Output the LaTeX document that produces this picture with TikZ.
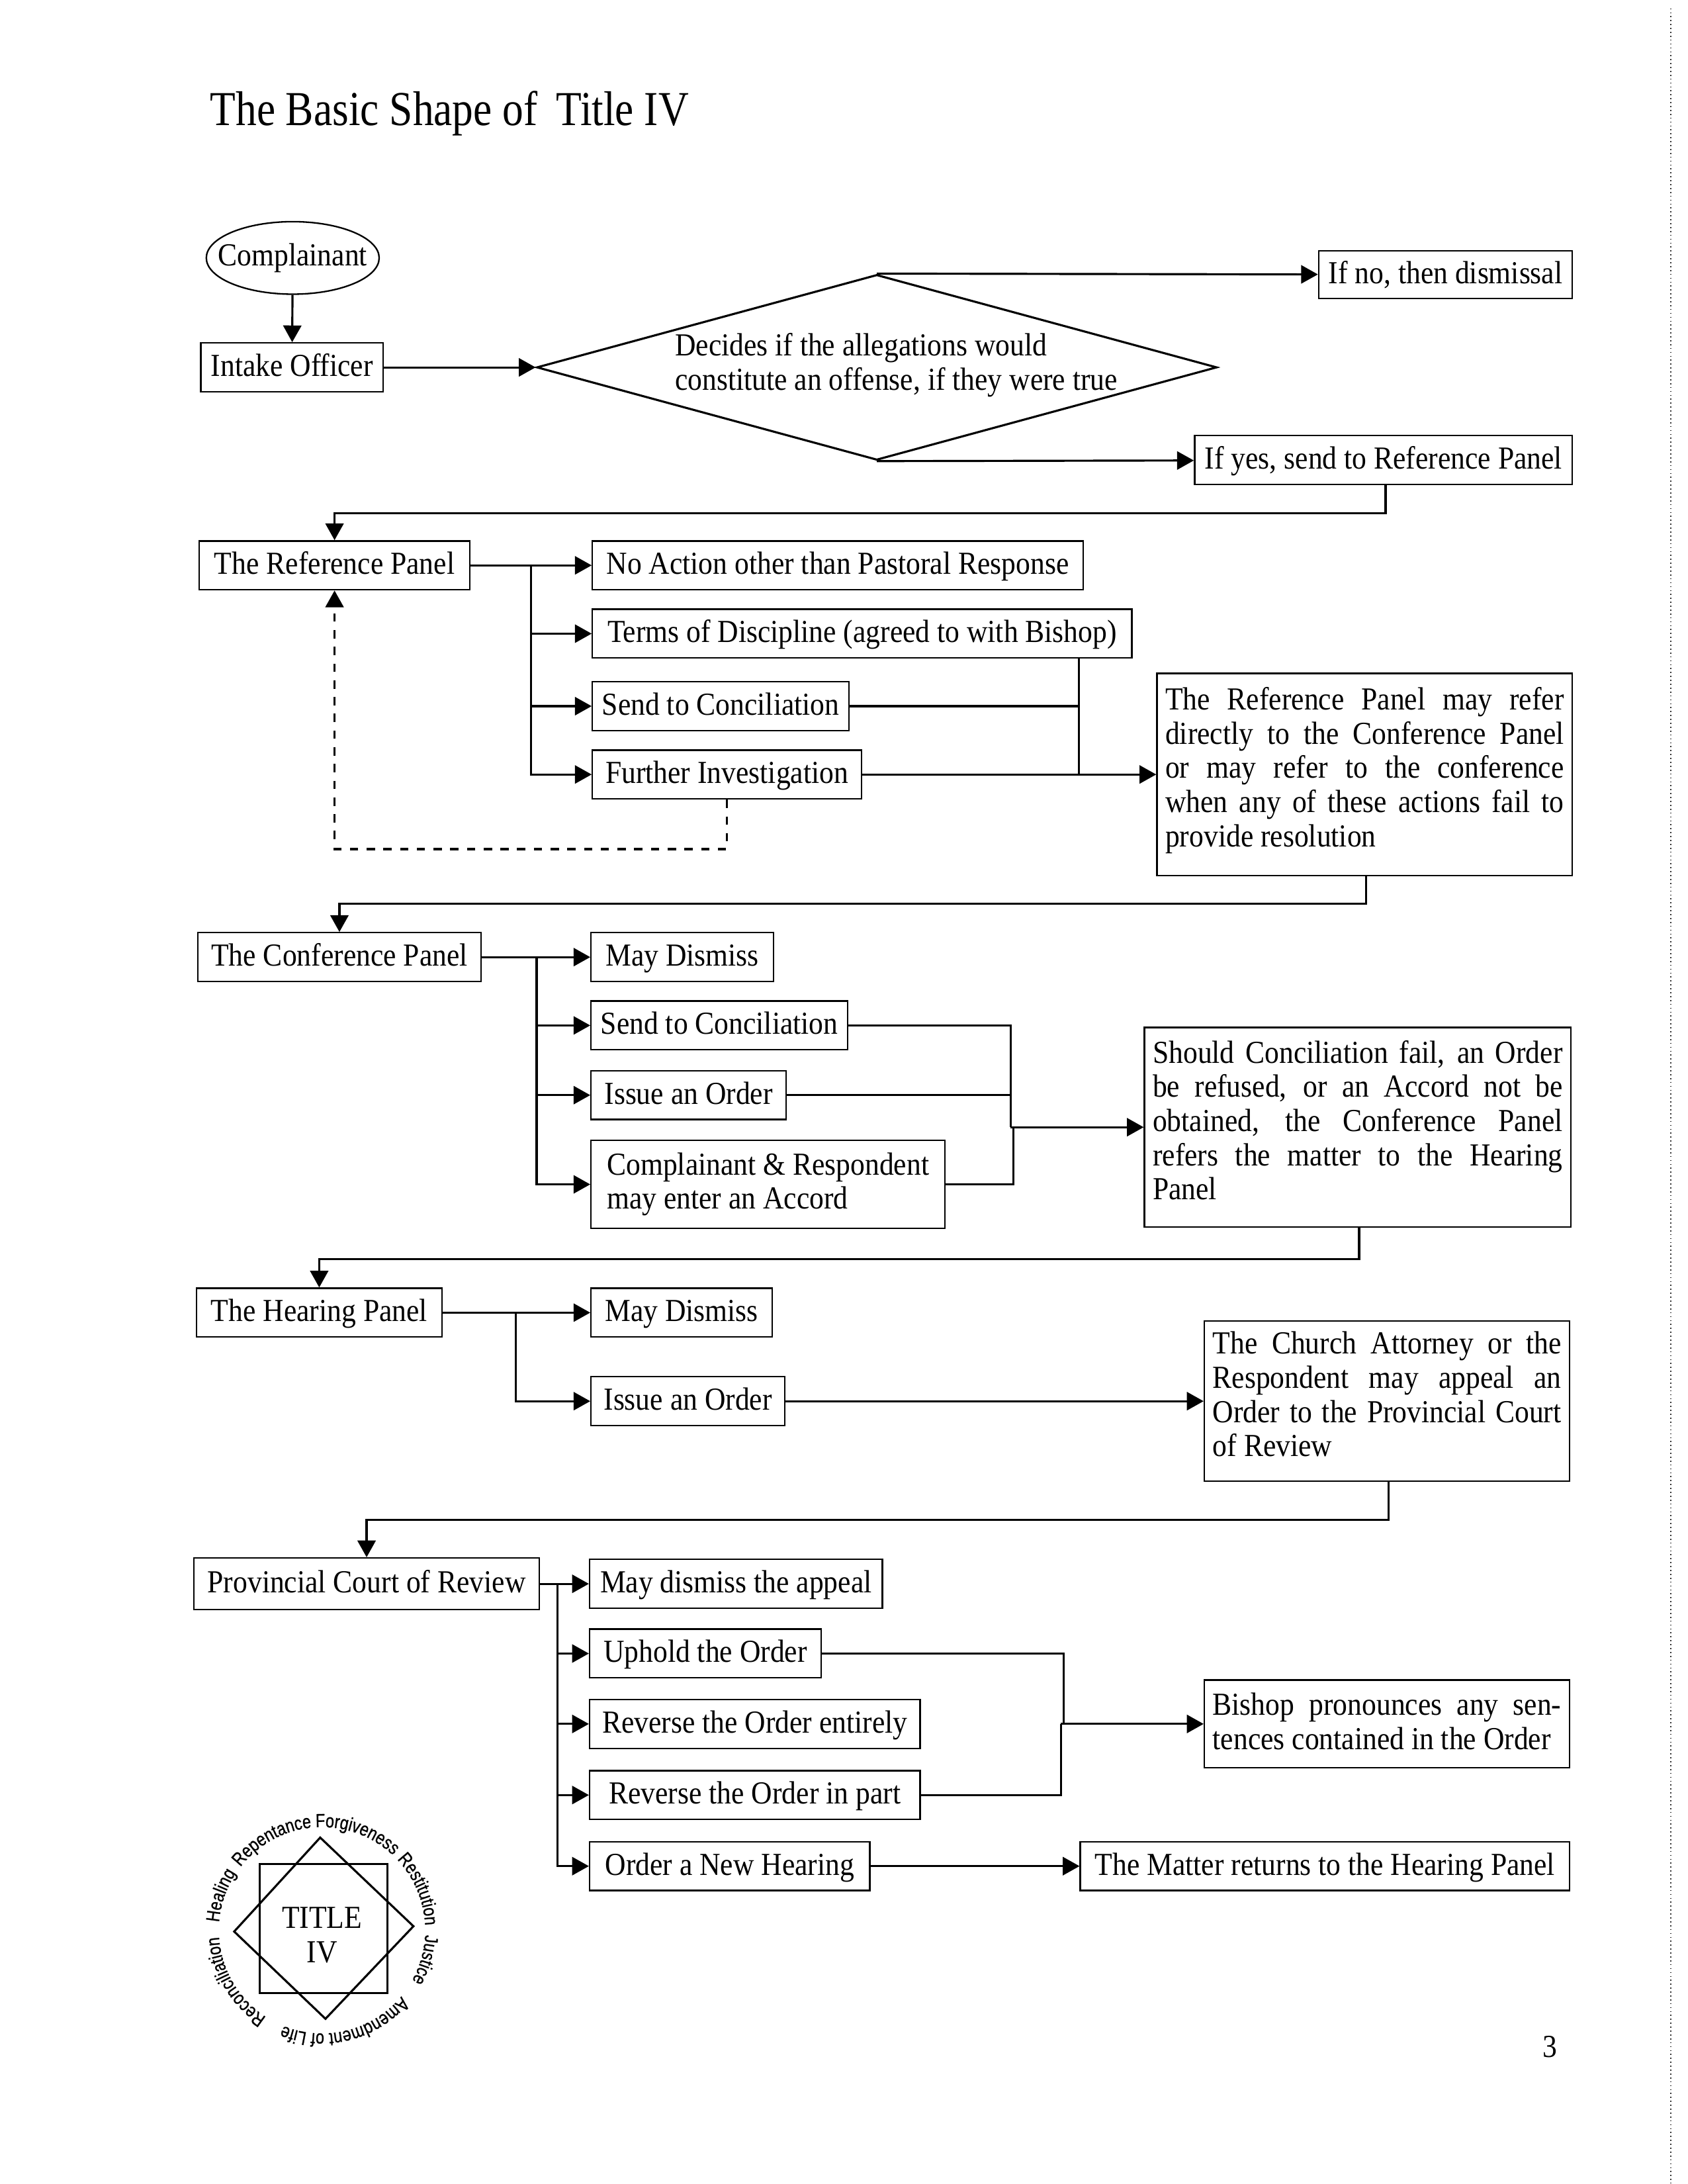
\documentclass[tikz,border=0pt]{standalone}
\usepackage{fontspec}
\setmainfont[FakeStretch=0.9]{Liberation Serif}
\newfontfamily\titlefont[FakeStretch=0.86]{Liberation Serif}
\newfontfamily\logofont[FakeStretch=0.82,FakeBold=0.8]{Liberation Sans}
\usetikzlibrary{arrows.meta,decorations.text,positioning,shapes.geometric}
\newcommand{\liftnote}[1]{\par\nointerlineskip\rule{0pt}{#1}}
\tikzset{x=0.5pt,y=-0.5pt,
    >={Triangle[length=6pt,width=6.5pt]},
    every path/.style={line width=0.75pt},
    every node/.style={font=\fontsize{11.5}{12.25}\selectfont},
    boxy/.style={draw,rectangle,line width=0.55pt,inner sep=0,minimum height=17.5pt,text height=8.5pt,text depth=2.1pt},
    twolines/.style={draw,rectangle,line width=0.55pt,inner sep=0,align=left},
    notebox/.style={draw,rectangle,line width=0.55pt,inner xsep=3pt,inner ysep=0,align=justify},
    ringword/.style={decorate,decoration={text along path,text align=center,
        text={|\logofont\fontsize{6.8}{7}\selectfont|#1}}}}
\begin{document}
\begin{tikzpicture}
\useasboundingbox (0,0) rectangle (1210.5,1566.5);

\node (title) [anchor=base west,inner sep=0,font=\titlefont\fontsize{17.5}{20}\selectfont] at (150,90) {The Basic Shape of\, Title IV};

\node (complainant) [draw,ellipse,line width=0.55pt,inner sep=0,minimum width=62pt,minimum height=26pt,label={center:Complainant}] at (210,185) {};
\node (intake) [boxy,minimum width=65.5pt] at (209.5,263.5) {Intake Officer};
\node (decide) [draw,diamond,inner sep=0,minimum width=244pt,minimum height=66.5pt] at (629,263.5) {};
\node (decide text) [align=left,inner sep=0] at (643,262) {Decides if the allegations would\\constitute an offense, if they were true};
\node (no box) [boxy,minimum width=91pt,minimum height=17pt] at (1037,197) {If no, then dismissal};
\node (yes box) [boxy,minimum width=135.5pt] at (992.5,330) {If yes, send to Reference Panel};

\draw [->] (complainant) -- (intake);
\draw [->] (intake) -- (decide.west);
\draw [->] (decide.north) -- (no box);
\draw [->] (decide.south) -- (yes box);

% reference panel
\node (ref panel) [boxy,minimum width=97pt] at (240,405.5) {The Reference Panel};
\node (ref none) [boxy,minimum width=176pt] at (601,405.5) {No Action other than Pastoral Response};
\node (ref terms) [boxy,minimum width=193.5pt] at (618.5,454.5) {Terms of Discipline (agreed to with Bishop)};
\node (ref concil) [boxy,minimum width=92pt] at (517,506.5) {Send to Conciliation};
\node (ref further) [boxy,minimum width=96.5pt] at (521.5,555.5) {Further Investigation};
\node (ref note) [notebox,text width=143pt,minimum height=72.5pt] at (979,555.5) {The Reference Panel may refer\linebreak directly to the Conference Panel\linebreak or may refer to the conference\linebreak when any of these actions fail to\linebreak provide resolution\liftnote{3pt}};
\coordinate (ref fork) at (381,405.5);
\coordinate (ref join) at (774,555.5);
\coordinate (yes turn) at (994,368);
\coordinate (dash turn) at (240,609);

\draw [->] (yes box.south -| yes turn) -- (yes turn) -| (ref panel.north);
\draw [->] (ref panel) -- (ref none);
\draw [->] (ref fork) |- (ref terms);
\draw [->] (ref fork) |- (ref concil);
\draw [->] (ref fork) |- (ref further);
\draw (ref terms.south -| ref join) -- (ref join);
\draw (ref concil) -| (ref join);
\draw [->] (ref further) -- (ref note);
\draw [->,dashed] (ref further.south) |- (dash turn) -- (ref panel.south);

% conference panel
\node (conf panel) [boxy,minimum width=101.5pt] at (243.5,686.5) {The Conference Panel};
\node (conf dismiss) [boxy,minimum width=65.5pt] at (489.5,686.5) {May Dismiss};
\node (conf concil) [boxy,minimum width=92pt] at (516,735.5) {Send to Conciliation};
\node (conf order) [boxy,minimum width=70pt] at (494,785.5) {Issue an Order};
\node (conf accord) [twolines,minimum width=127pt,minimum height=31.5pt] at (551,849.5) {Complainant \& Respondent\\may enter an Accord};
\node (conf note) [notebox,text width=147pt,minimum height=71.5pt] at (974,808.5) {Should Conciliation fail, an Order\linebreak be refused, or an Accord not be\linebreak obtained, the Conference Panel\linebreak refers the matter to the Hearing\linebreak Panel\liftnote{5pt}};
\coordinate (conf fork) at (385,686.5);
\coordinate (conf join) at (725,808.5);
\coordinate (conf low) at (727,808.5);
\coordinate (note turn) at (980,648);

\draw [->] (ref note.south -| note turn) -- (note turn) -| (conf panel.north);
\draw [->] (conf panel) -- (conf dismiss);
\draw [->] (conf fork) |- (conf concil);
\draw [->] (conf fork) |- (conf order);
\draw [->] (conf fork) |- (conf accord);
\draw (conf concil) -| (conf join);
\draw (conf order) -- (conf order -| conf join);
\draw (conf accord) -| (conf low);
\draw [->] (conf join) -- (conf note);

% hearing panel
\node (hear panel) [boxy,minimum width=88pt] at (229,941.5) {The Hearing Panel};
\node (hear dismiss) [boxy,minimum width=65pt] at (489,941.5) {May Dismiss};
\node (hear order) [boxy,minimum width=69.5pt] at (493.5,1005) {Issue an Order};
\node (hear note) [notebox,text width=125pt,minimum height=57.5pt] at (995,1005) {The Church Attorney or the\linebreak Respondent may appeal an\linebreak Order to the Provincial Court\linebreak of Review\liftnote{5pt}};
\coordinate (hear fork) at (370,941.5);
\coordinate (conf turn) at (975,903);

\draw [->] (conf note.south -| conf turn) -- (conf turn) -| (hear panel.north);
\draw [->] (hear panel) -- (hear dismiss);
\draw [->] (hear fork) |- (hear order);
\draw [->] (hear order) -- (hear note);

% court of review
\node (court panel) [boxy,minimum width=124pt,minimum height=18.5pt] at (263,1136) {Provincial Court of Review};
\node (court dismiss) [boxy,minimum width=105pt] at (528,1136) {May dismiss the appeal};
\node (court uphold) [boxy,minimum width=83pt] at (506,1186) {Uphold the Order};
\node (court entire) [boxy,minimum width=118.5pt] at (541.5,1236.5) {Reverse the Order entirely};
\node (court part) [boxy,minimum width=118.5pt] at (541.5,1287.5) {Reverse the Order in part};
\node (court new) [boxy,minimum width=100.5pt] at (523.5,1338.5) {Order a New Hearing};
\node (court note) [notebox,text width=125pt,minimum height=31.5pt] at (995,1236.5) {Bishop pronounces any sen-\linebreak tences contained in the Order\liftnote{2pt}};
\node (court back) [boxy,minimum width=175.5pt] at (950.5,1338.5) {The Matter returns to the Hearing Panel};
\coordinate (court fork) at (400,1136);
\coordinate (court join) at (763,1236.5);
\coordinate (court low) at (761,1236.5);
\coordinate (hear turn) at (996,1090);

\draw [->] (hear note.south -| hear turn) -- (hear turn) -| (court panel.north);
\draw [->] (court panel) -- (court dismiss);
\draw [->] (court fork) |- (court uphold);
\draw [->] (court fork) |- (court entire);
\draw [->] (court fork) |- (court part);
\draw [->] (court fork) |- (court new);
\draw (court uphold) -| (court join);
\draw (court part) -| (court low);
\draw [->] (court low) -- (court note);
\draw [->] (court new) -- (court back);

% logo
\coordinate (ring) at (231,1384.5);
\draw (186.5,1337) rectangle (278,1429.5);
\draw (229.7,1318) -- (296.6,1381.6) -- (233.5,1448) -- (168,1385.4) -- cycle;
\node (logo) [align=center,inner sep=0] at (231,1388) {TITLE\\IV};
\path [ringword=Healing] (ring) ++(201:37pt) arc [start angle=201,end angle=121,radius=37pt];
\path [ringword=Repentance] (ring) ++(169:37pt) arc [start angle=169,end angle=69,radius=37pt];
\path [ringword=Forgiveness] (ring) ++(120:37pt) arc [start angle=120,end angle=20,radius=37pt];
\path [ringword=Restitution] (ring) ++(73:37pt) arc [start angle=73,end angle=-27,radius=37pt];
\path [ringword=Justice] (ring) ++(34:37pt) arc [start angle=34,end angle=-66,radius=37pt];
\path [ringword=Amendment of Life] (ring) ++(-16:37pt) arc [start angle=-16,end angle=-136,radius=37pt];
\path [ringword=Reconciliation] (ring) ++(-89.5:37pt) arc [start angle=-89.5,end angle=-209.5,radius=37pt];

\node (page) [inner sep=0] at (1112,1468) {3};

% scanned edge
\draw [line width=0.4pt,black!80,densely dotted] (1198.5,6) -- (1198.5,1566);

\end{tikzpicture}
\end{document}
